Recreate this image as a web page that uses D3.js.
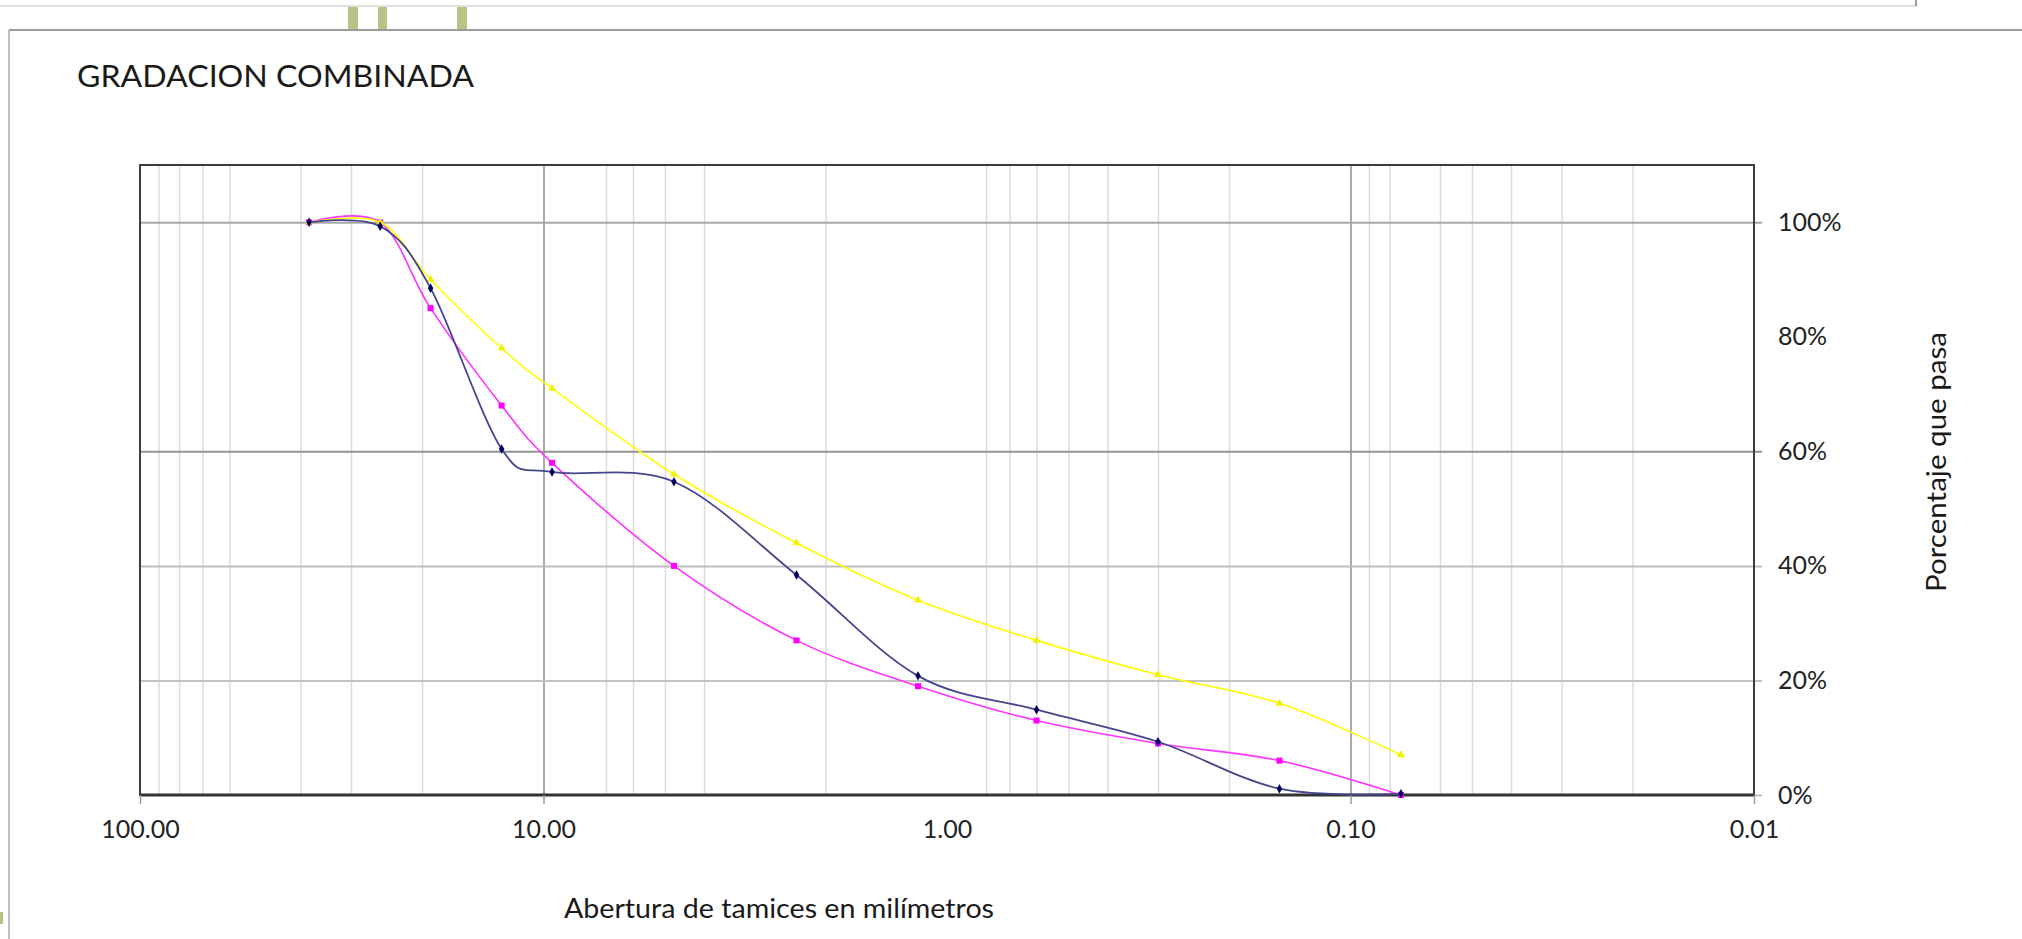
<!DOCTYPE html>
<html><head><meta charset="utf-8">
<script src="https://cdn.jsdelivr.net/npm/d3@7"></script>
<style>html,body{margin:0;padding:0;background:#fff;overflow:hidden}</style>
</head><body><svg id="c" width="2022" height="939"></svg>
<script>
// ---- data ----
const sieveSizes = [38.1, 25.4, 19.05, 12.7, 9.525, 4.75, 2.36, 1.18, 0.6, 0.3, 0.15, 0.075];
const combined   = [100, 99.3, 88.5, 60.4, 56.4, 54.7, 38.4, 20.8, 14.9, 9.3, 1.1, 0.2];
const lowerLimit = [100, 100, 85, 68, 58, 40, 27, 19, 13, 9, 6, 0];
const upperLimit = [100, 100, 90, 78, 71, 56, 44, 34, 27, 21, 16, 7];
const xTickValues = [100, 10, 1, 0.1, 0.01];
const xTickLabels = ["100.00", "10.00", "1.00", "0.10", "0.01"];
const xTickMarks = [100, 10, 0.1, 0.01];
const majorGrid = [10, 0.1];
const minorGrid = [90, 80, 70, 60, 40, 30, 20, 7, 6, 5, 4, 2, 0.8, 0.7, 0.6, 0.5, 0.4, 0.3, 0.2, 0.09, 0.08, 0.06, 0.05, 0.04, 0.03, 0.02];
const yTickValues = [0, 20, 40, 60, 80, 100];
const yGridValues = [20, 40, 60, 100];
const titleText = "GRADACION COMBINADA";
const xTitleText = "Abertura de tamices en milímetros";
const yTitleText = "Porcentaje que pasa";

// ---- layout ----
const FONT = "Lato, 'Open Sans', sans-serif";
const m = {left: 140, right: 1754, top: 165, bottom: 795};
const svg = d3.select("#c");
const x = d3.scaleLog().domain([100, 0.01]).range([m.left, m.right]);
const y = d3.scaleLinear().domain([0, 110]).range([m.bottom, m.top]);
const pw = m.right - m.left, ph = m.bottom - m.top;

// ---- page decorations ----
svg.append("rect").attr("x", -2).attr("y", -2).attr("width", 1918).attr("height", 8)
  .attr("fill", "#fff").attr("stroke", "#d6d6d6").attr("stroke-width", 1.5);
svg.append("line").attr("x1", 1916).attr("x2", 1916).attr("y1", 0).attr("y2", 6)
  .attr("stroke", "#8a8a8a").attr("stroke-width", 1.5);
const greenMarks = [[348, 10], [378, 9], [457, 10]];
greenMarks.forEach(([gx, gw]) => {
  svg.append("rect").attr("x", gx).attr("y", 7).attr("width", gw).attr("height", 23)
    .attr("fill", "#a9bb72").attr("opacity", 0.85);
});
svg.append("rect").attr("x", 0).attr("y", 912).attr("width", 3).attr("height", 12).attr("fill", "#b5c483");
svg.append("line").attr("x1", 9).attr("x2", 2022).attr("y1", 30).attr("y2", 30)
  .attr("stroke", "#9c9c9c").attr("stroke-width", 2);
svg.append("line").attr("x1", 9).attr("x2", 9).attr("y1", 30).attr("y2", 939)
  .attr("stroke", "#a6a6a6").attr("stroke-width", 1.5);

// ---- title ----
svg.append("text").attr("x", 77).attr("y", 87).text(titleText)
  .attr("font-family", FONT).attr("font-size", 31).attr("fill", "#1a1a1a")
  .attr("textLength", 397).attr("lengthAdjust", "spacingAndGlyphs");

// ---- vertical gridlines ----
const gMinor = svg.append("g").attr("transform", `translate(0,${m.bottom})`)
  .call(d3.axisBottom(x).tickValues(minorGrid).tickSize(-ph).tickFormat(""));
gMinor.select(".domain").remove();
gMinor.selectAll("line").attr("stroke", "#dcdcdc").attr("stroke-width", 1.5);

const gMajor = svg.append("g").attr("transform", `translate(0,${m.bottom})`)
  .call(d3.axisBottom(x).tickValues(majorGrid).tickSize(-ph).tickFormat(""));
gMajor.select(".domain").remove();
gMajor.selectAll("line").attr("stroke", "#8e8e8e").attr("stroke-width", 1.5);

// ---- horizontal gridlines (extend 8px right of plot) ----
const hShade = {20: "#c2c2c2", 40: "#bdbdbd", 60: "#939393", 100: "#a9a9a9"};
const gH = svg.append("g").attr("transform", `translate(${m.right + 8},0)`)
  .call(d3.axisRight(y).tickValues(yGridValues).tickSize(-(pw + 8)).tickFormat(""));
gH.select(".domain").remove();
gH.selectAll(".tick line").attr("stroke", d => hShade[d]).attr("stroke-width", 2);

// 0% tick on the right
const gZ = svg.append("g").attr("transform", `translate(${m.right},0)`)
  .call(d3.axisRight(y).tickValues([0]).tickSize(8).tickFormat(""));
gZ.select(".domain").remove();
gZ.selectAll("line").attr("stroke", "#b0b0b0").attr("stroke-width", 1.5);

// ---- plot frame ----
svg.append("rect").attr("x", m.left).attr("y", m.top).attr("width", pw).attr("height", ph)
  .attr("fill", "none").attr("stroke", "#3c3c3c").attr("stroke-width", 2);
svg.append("line").attr("x1", m.left).attr("x2", m.right).attr("y1", m.bottom).attr("y2", m.bottom)
  .attr("stroke", "#333").attr("stroke-width", 3);

// ---- x axis ----
const gXT = svg.append("g").attr("transform", `translate(0,${m.bottom})`)
  .call(d3.axisBottom(x).tickValues(xTickMarks).tickSize(9).tickFormat(""));
gXT.select(".domain").remove();
gXT.selectAll("line").attr("stroke", "#9a9a9a").attr("stroke-width", 1.5);

const gX = svg.append("g").attr("transform", `translate(0,${m.bottom})`)
  .call(d3.axisBottom(x).tickValues(xTickValues).tickSize(0).tickPadding(25)
    .tickFormat((d, i) => xTickLabels[i]));
gX.select(".domain").remove();
gX.selectAll("text").attr("font-family", FONT).attr("font-size", 25).attr("fill", "#222");

// ---- y axis (right) ----
const gY = svg.append("g").attr("transform", `translate(${m.right},0)`)
  .call(d3.axisRight(y).tickValues(yTickValues).tickSize(0).tickPadding(24)
    .tickFormat(d => d + "%"));
gY.select(".domain").remove();
gY.selectAll("text").attr("font-family", FONT).attr("font-size", 25).attr("fill", "#222");

// ---- axis titles ----
svg.append("text").attr("x", 779).attr("y", 918).attr("text-anchor", "middle").text(xTitleText)
  .attr("font-family", FONT).attr("font-size", 26).attr("fill", "#1a1a1a")
  .attr("textLength", 430).attr("lengthAdjust", "spacingAndGlyphs");
svg.append("text").attr("transform", "translate(1946,462) rotate(-90)")
  .attr("text-anchor", "middle").text(yTitleText)
  .attr("font-family", FONT).attr("font-size", 26).attr("fill", "#1a1a1a")
  .attr("textLength", 260).attr("lengthAdjust", "spacingAndGlyphs");

// ---- series ----
const series = [
  {name: "Límite inferior", values: lowerLimit, line: "#ff33ff", mark: "#ff00ff", symbol: d3.symbolSquare, size: 36, width: 1.6},
  {name: "Límite superior", values: upperLimit, line: "#ffff00", mark: "#f2f200", symbol: d3.symbolTriangle, size: 28, width: 1.6},
  {name: "Combinada", values: combined, line: "#45458e", mark: "#000060", symbol: d3.symbolDiamond, size: 26, width: 1.8}
];
const lineGen = d3.line().x(d => x(d[0])).y(d => y(d[1])).curve(d3.curveCardinal.tension(0));
series.forEach(s => {
  const pts = sieveSizes.map((v, i) => [v, s.values[i]]);
  svg.append("path").datum(pts).attr("d", lineGen)
    .attr("fill", "none").attr("stroke", s.line).attr("stroke-width", s.width);
  svg.append("g").selectAll("path").data(pts).join("path")
    .attr("transform", d => `translate(${x(d[0])},${y(d[1])})`)
    .attr("d", d3.symbol().type(s.symbol).size(s.size))
    .attr("fill", s.mark);
});
</script>
</body></html>
